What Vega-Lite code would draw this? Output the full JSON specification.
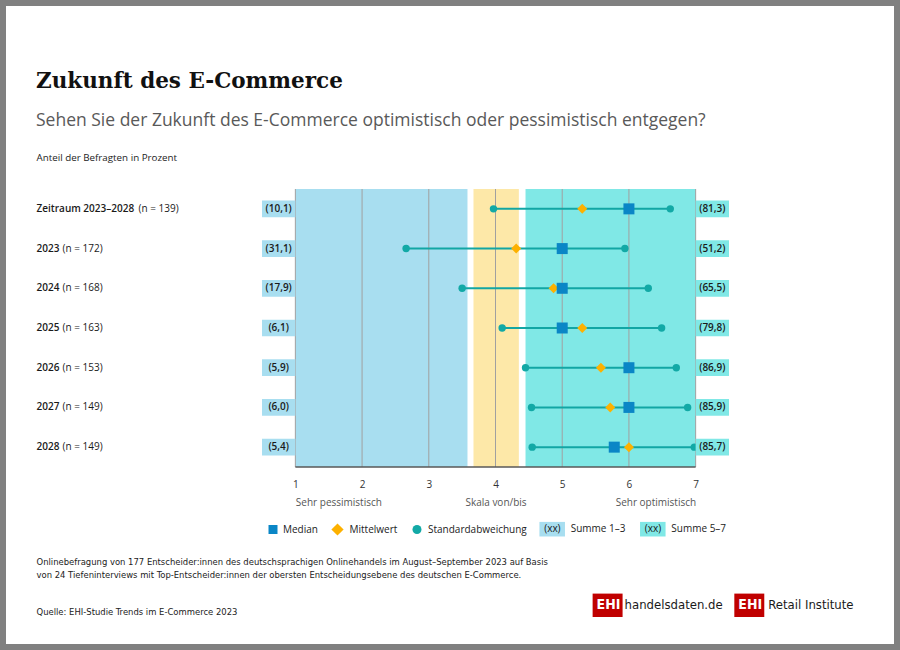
{
  "$schema": "https://vega.github.io/schema/vega-lite/v6.json",
  "width": 467,
  "height": 278,
  "autosize": {"type": "none"},
  "padding": {"left": 262, "top": 189, "right": 171, "bottom": 183},
  "background": "white",
  "title": {
    "text": "Zukunft des E-Commerce",
    "subtitle": "Sehen Sie der Zukunft des E-Commerce optimistisch oder pessimistisch entgegen?",
    "anchor": "start",
    "frame": "group",
    "dx": -226,
    "offset": -130,
    "font": "DejaVu Serif",
    "fontSize": 21.5,
    "fontWeight": "bold",
    "color": "#111111",
    "subtitleFont": "Open Sans",
    "subtitleFontSize": 17.5,
    "subtitleColor": "#595959",
    "subtitlePadding": 19
  },
  "data": {
    "values": [
      {"cat": "Zeitraum 2023–2028 (n = 139)", "median": 6, "mean": 5.3, "sd_lo": 3.97, "sd_hi": 6.62, "s13": 10.1, "s57": 81.3},
      {"cat": "2023 (n = 172)", "median": 5, "mean": 4.31, "sd_lo": 2.66, "sd_hi": 5.94, "s13": 31.1, "s57": 51.2},
      {"cat": "2024 (n = 168)", "median": 5, "mean": 4.87, "sd_lo": 3.5, "sd_hi": 6.29, "s13": 17.9, "s57": 65.5},
      {"cat": "2025 (n = 163)", "median": 5, "mean": 5.3, "sd_lo": 4.1, "sd_hi": 6.49, "s13": 6.1, "s57": 79.8},
      {"cat": "2026 (n = 153)", "median": 6, "mean": 5.58, "sd_lo": 4.45, "sd_hi": 6.71, "s13": 5.9, "s57": 86.9},
      {"cat": "2027 (n = 149)", "median": 6, "mean": 5.72, "sd_lo": 4.54, "sd_hi": 6.88, "s13": 6.0, "s57": 85.9},
      {"cat": "2028 (n = 149)", "median": 5.78, "mean": 6.0, "sd_lo": 4.55, "sd_hi": 6.98, "s13": 5.4, "s57": 85.7}
    ]
  },
  "layer": [
    {
      "data": {"values": [
        {"zone": "1–3", "from": 1, "to": 3.58},
        {"zone": "4", "from": 3.67, "to": 4.35},
        {"zone": "5–7", "from": 4.45, "to": 7}
      ]},
      "mark": {"type": "rect"},
      "encoding": {
        "x": {"field": "from", "type": "quantitative", "scale": {"domain": [0.5, 7.5], "nice": false, "zero": false}, "axis": null},
        "x2": {"field": "to"},
        "fill": {"field": "zone", "type": "nominal", "scale": {"domain": ["1–3", "4", "5–7"], "range": ["#a8def0", "#fde8a8", "#80e8e6"]}, "legend": null}
      }
    },
    {
      "data": {"values": [{"v": 1}, {"v": 2}, {"v": 3}, {"v": 4}, {"v": 5}, {"v": 6}, {"v": 7}]},
      "mark": {"type": "rule", "color": "#a0a0a0", "strokeWidth": 1},
      "encoding": {
        "x": {"field": "v", "type": "quantitative", "scale": {"domain": [0.5, 7.5], "nice": false, "zero": false},
          "axis": {"orient": "bottom", "values": [1, 2, 3, 4, 5, 6, 7], "format": "d", "domain": false, "ticks": false, "tickSize": 0, "grid": false,
            "labelPadding": 12, "labelFont": "Open Sans", "labelFontSize": 10, "labelColor": "#333333", "labelFlush": false, "labelOverlap": false,
            "title": "Quelle: EHI-Studie Trends im E-Commerce 2023", "titleX": -226, "titleY": 144, "titleAlign": "left", "titleAnchor": "start",
            "titleBaseline": "middle", "titleAngle": 0, "titleFont": "Liberation Sans Narrow, DejaVu Sans Condensed, Liberation Sans",
            "titleFontSize": 9.4, "titleFontWeight": "normal", "titleColor": "#222222"}}
      }
    },
    {
      "data": {"values": [{}]},
      "mark": {"type": "rule", "color": "#595959", "strokeWidth": 1.5},
      "encoding": {
        "x": {"datum": 1, "type": "quantitative", "scale": {"domain": [0.5, 7.5], "nice": false, "zero": false},
          "axis": {"orient": "bottom", "values": [1, 4, 7], "domain": false, "ticks": false, "tickSize": 0, "grid": false, "labelPadding": 30,
            "labelExpr": "datum.value == 1 ? 'Sehr pessimistisch' : datum.value == 4 ? 'Skala von/bis' : 'Sehr optimistisch'",
            "labelAlign": {"condition": [{"test": "datum.value == 1", "value": "left"}, {"test": "datum.value == 7", "value": "right"}], "value": "center"},
            "labelFont": "Open Sans", "labelFontSize": 10, "labelColor": "#555555", "labelFlush": false, "labelOverlap": false, "labelLimit": 300,
            "title": ["Onlinebefragung von 177 Entscheider:innen des deutschsprachigen Onlinehandels im August–September 2023 auf Basis", "von 24 Tiefeninterviews mit Top-Entscheider:innen der obersten Entscheidungsebene des deutschen E-Commerce."],
            "titleX": -226, "titleY": 90, "titleAlign": "left", "titleAnchor": "start", "titleBaseline": "top", "titleAngle": 0,
            "titleFont": "Liberation Sans Narrow, DejaVu Sans Condensed, Liberation Sans", "titleFontSize": 9.4, "titleFontWeight": "normal",
            "titleColor": "#222222", "titleLineHeight": 13}},
        "x2": {"datum": 7},
        "y": {"value": "height"}
      }
    },
    {
      "mark": {"type": "rule", "color": "#12a6a4", "strokeWidth": 2},
      "encoding": {
        "y": {"field": "cat", "type": "nominal", "sort": null,
          "axis": {"orient": "left", "domain": false, "ticks": false, "tickSize": 0, "grid": false, "labelAlign": "left", "labelPadding": 226,
            "labelExpr": "split(datum.value, ' (')[0]", "labelFont": "Open Sans", "labelFontSize": 10, "labelFontWeight": 600,
            "labelColor": "#1a1a1a", "labelLimit": 300,
            "title": "Anteil der Befragten in Prozent", "titleAngle": 0, "titleX": -226, "titleY": -32, "titleAlign": "left",
            "titleBaseline": "middle", "titleFont": "Open Sans", "titleFontSize": 9.8, "titleFontWeight": "normal", "titleColor": "#222222"}},
        "x": {"field": "sd_lo", "type": "quantitative", "scale": {"domain": [0.5, 7.5], "nice": false, "zero": false}, "axis": null},
        "x2": {"field": "sd_hi"}
      }
    },
    {
      "transform": [{"fold": ["sd_lo", "sd_hi"], "as": ["which", "sdv"]}],
      "mark": {"type": "point", "filled": true, "shape": "circle", "size": 55, "opacity": 1},
      "encoding": {
        "y": {"field": "cat", "type": "nominal", "sort": null,
          "axis": {"orient": "left", "domain": false, "ticks": false, "tickSize": 0, "grid": false, "labelAlign": "left",
            "labelPadding": {"condition": {"test": "indexof(datum.value, 'Zeitraum') >= 0", "value": 124}, "value": 200},
            "labelExpr": "'(' + split(datum.value, ' (')[1]", "labelFont": "Open Sans", "labelFontSize": 10, "labelFontWeight": "normal",
            "labelColor": "#1a1a1a", "labelLimit": 300, "title": null}},
        "x": {"field": "sdv", "type": "quantitative", "scale": {"domain": [0.5, 7.5], "nice": false, "zero": false}, "axis": null},
        "color": {"datum": "Standardabweichung", "scale": {"range": ["#12a9a6"]},
          "legend": {"orient": "none", "legendX": 150, "legendY": 335.5, "symbolType": "circle", "symbolSize": 81, "labelOffset": 6, "title": null}}
      }
    },
    {
      "mark": {"type": "point", "filled": true, "shape": "diamond", "size": 100, "opacity": 1},
      "encoding": {
        "y": {"field": "cat", "type": "nominal", "sort": null, "axis": null},
        "x": {"field": "mean", "type": "quantitative", "scale": {"domain": [0.5, 7.5], "nice": false, "zero": false}, "axis": null},
        "color": {"datum": "Mittelwert", "scale": {"range": ["#fdb100"]},
          "legend": {"orient": "none", "legendX": 69, "legendY": 334, "symbolType": "diamond", "symbolSize": 150, "labelOffset": 5.5, "title": null}}
      }
    },
    {
      "mark": {"type": "point", "filled": true, "shape": "square", "size": 121, "opacity": 1},
      "encoding": {
        "y": {"field": "cat", "type": "nominal", "sort": null, "axis": null},
        "x": {"field": "median", "type": "quantitative", "scale": {"domain": [0.5, 7.5], "nice": false, "zero": false}, "axis": null},
        "color": {"datum": "Median", "scale": {"range": ["#0a86c6"]},
          "legend": {"orient": "none", "legendX": 6, "legendY": 335.5, "symbolType": "square", "symbolSize": 81, "labelOffset": 5, "title": null}}
      }
    },
    {
      "mark": {"type": "rect", "height": {"band": 0.42}},
      "encoding": {
        "y": {"field": "cat", "type": "nominal", "sort": null, "axis": null},
        "x": {"datum": 0.5, "type": "quantitative", "scale": {"domain": [0.5, 7.5], "nice": false, "zero": false}, "axis": null},
        "x2": {"datum": 1},
        "fill": {"datum": "(xx)", "scale": {"range": ["#a8def0"]},
          "legend": {"orient": "none", "legendX": 282.7, "legendY": 332.7, "symbolType": "M-1.75,-1H1.75V1H-1.75Z", "symbolSize": 213,
            "labelOffset": -15.5, "labelColor": "#1a1a1a", "title": "Summe 1–3", "titleOrient": "right", "titlePadding": 6,
            "titleFont": "Open Sans", "titleFontSize": 10, "titleFontWeight": "normal", "titleColor": "#222222", "titleBaseline": "middle"}}
      }
    },
    {
      "mark": {"type": "text", "font": "Open Sans", "fontSize": 10, "fontWeight": 600, "color": "#1a1a1a"},
      "encoding": {
        "y": {"field": "cat", "type": "nominal", "sort": null, "axis": null},
        "x": {"datum": 0.75, "type": "quantitative", "scale": {"domain": [0.5, 7.5], "nice": false, "zero": false}, "axis": null},
        "text": {"field": "s13", "type": "quantitative", "format": "$.1f"}
      }
    },
    {
      "mark": {"type": "rect", "height": {"band": 0.42}},
      "encoding": {
        "y": {"field": "cat", "type": "nominal", "sort": null, "axis": null},
        "x": {"datum": 7, "type": "quantitative", "scale": {"domain": [0.5, 7.5], "nice": false, "zero": false}, "axis": null},
        "x2": {"datum": 7.5},
        "fill": {"datum": "(xx)", "scale": {"range": ["#80e8e6"]},
          "legend": {"orient": "none", "legendX": 383.3, "legendY": 332.7, "symbolType": "M-1.75,-1H1.75V1H-1.75Z", "symbolSize": 213,
            "labelOffset": -15.5, "labelColor": "#1a1a1a", "title": "Summe 5–7", "titleOrient": "right", "titlePadding": 6,
            "titleFont": "Open Sans", "titleFontSize": 10, "titleFontWeight": "normal", "titleColor": "#222222", "titleBaseline": "middle"}}
      }
    },
    {
      "mark": {"type": "text", "font": "Open Sans", "fontSize": 10, "fontWeight": 600, "color": "#1a1a1a"},
      "encoding": {
        "y": {"field": "cat", "type": "nominal", "sort": null, "axis": null},
        "x": {"datum": 7.25, "type": "quantitative", "scale": {"domain": [0.5, 7.5], "nice": false, "zero": false}, "axis": null},
        "text": {"field": "s57", "type": "quantitative", "format": "$.1f"}
      }
    },
    {
      "mark": {"type": "text", "text": ""},
      "encoding": {
        "fill": {"datum": "EHI", "scale": {"range": ["#c00000"]},
          "legend": {"orient": "none", "legendX": 333.6, "legendY": 404.3, "symbolType": "M-1.28,-1H1.28V1H-1.28Z", "symbolSize": 548,
            "labelColor": "#ffffff", "labelFont": "Liberation Sans Narrow, DejaVu Sans Condensed, Liberation Sans", "labelFontSize": 14,
            "labelFontWeight": "bold", "labelOffset": -23,
            "title": "handelsdaten.de", "titleOrient": "right", "titlePadding": 2, "titleBaseline": "middle",
            "titleFont": "Liberation Sans Narrow, DejaVu Sans Condensed, Liberation Sans", "titleFontSize": 13, "titleFontWeight": "normal", "titleColor": "#1a1a1a"}}
      }
    },
    {
      "mark": {"type": "text", "text": ""},
      "encoding": {
        "fill": {"datum": "EHI", "scale": {"range": ["#c00000"]},
          "legend": {"orient": "none", "legendX": 475.3, "legendY": 404.3, "symbolType": "M-1.28,-1H1.28V1H-1.28Z", "symbolSize": 548,
            "labelColor": "#ffffff", "labelFont": "Liberation Sans Narrow, DejaVu Sans Condensed, Liberation Sans", "labelFontSize": 14,
            "labelFontWeight": "bold", "labelOffset": -23,
            "title": "Retail Institute", "titleOrient": "right", "titlePadding": 4, "titleBaseline": "middle",
            "titleFont": "Liberation Sans Narrow, DejaVu Sans Condensed, Liberation Sans", "titleFontSize": 13, "titleFontWeight": "normal", "titleColor": "#1a1a1a"}}
      }
    },
    {
      "mark": {"type": "text", "text": ""},
      "encoding": {
        "fill": {"datum": "Rahmen", "scale": {"range": ["#808080"]},
          "legend": {"orient": "none", "legendX": -263, "legendY": -190, "symbolType": "M-20,-20H920V670H-20ZM6,6V644H894V6Z", "symbolSize": 4,
            "labelExpr": "''", "labelFontSize": 1, "title": null}}
      }
    }
  ],
  "resolve": {
    "scale": {"fill": "independent", "color": "independent"},
    "legend": {"fill": "independent", "color": "independent"},
    "axis": {"x": "independent", "y": "independent"}
  },
  "config": {
    "view": {"stroke": null},
    "font": "Open Sans",
    "scale": {"bandPaddingInner": 0, "bandPaddingOuter": 0},
    "locale": {"number": {"decimal": ",", "thousands": ".", "grouping": [3], "currency": ["(", ")"]}},
    "legend": {"padding": 0, "labelFont": "Open Sans", "labelFontSize": 10, "labelColor": "#222222", "symbolStrokeWidth": 0, "symbolOpacity": 1}
  }
}
